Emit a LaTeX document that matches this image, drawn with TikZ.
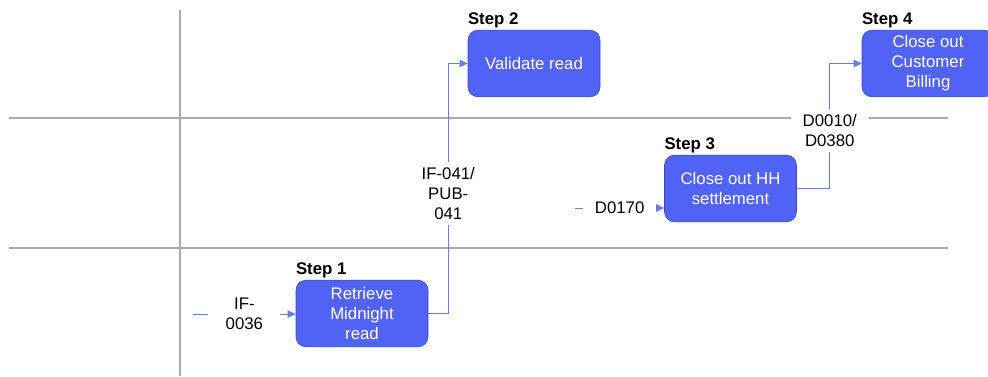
\documentclass[tikz,border=0pt]{standalone}
\usepackage{fontspec}
\setmainfont{Liberation Sans}
\usepackage{xcolor}
\usetikzlibrary{arrows.meta, backgrounds}

\definecolor{boxblue}{HTML}{5163F5}
\definecolor{boxedge}{HTML}{3947C4}
\definecolor{flowblue}{HTML}{6A7BF0}
\definecolor{lanegray}{HTML}{AAAAAA}

\begin{document}
\begin{tikzpicture}[x=0.75pt, y=-0.75pt, font=\fontsize{12.6}{15}\selectfont]
            \tikzstyle{Step Box} = [draw=boxedge, fill=boxblue, text=white, rounded corners=7.5pt, minimum width=99pt, minimum height=50pt, align=center, inner sep=2pt,
                label={[anchor=south west, inner xsep=0pt, inner ysep=1pt, font=\fontsize{12.6}{15}\selectfont\bfseries]north west:{#1}}]
            \tikzstyle{Flow} = [flowblue, semithick, -{Triangle[length=6pt, width=5.5pt]}]
            \tikzstyle{Data Label} = [fill=white, text=black, align=center, inner xsep=9pt, inner ysep=4pt]
            \tikzstyle{Lane} = [lanegray, line width=0.8pt]
            \useasboundingbox (0,0) rectangle (988,376);
            % steps
            \node[Step Box={Step 1}] (retrieve) at (362,313.5) {Retrieve\\Midnight\\read};
            \node[Step Box={Step 2}] (validate) at (534,63.5) {Validate read};
            \node[Step Box={Step 3}] (settle) at (730.5,188.5) {Close out HH\\settlement};
            \node[Step Box={Step 4}] (billing) at (928,63.5) {Close out\\Customer\\Billing};
            \coordinate (if36) at (193,314);
            \coordinate (d170) at (575,208);
            \begin{scope}[on background layer]
                % swimlanes
                \draw[Lane] (180,10) -- (180,376);
                \draw[Lane] (9,118) -- (948,118);
                \draw[Lane] (9,248) -- (948,248);
                % flows
                \draw[Flow] (if36) -- node[Data Label, inner xsep=13pt] {IF-\\0036} (if36 -| retrieve.west);
                \draw[Flow] (retrieve.east) -- ++(20,0) |- node[Data Label, pos=0.24] {IF-041/\\PUB-\\041} (validate.west);
                \draw[Flow] (d170) -- node[Data Label] {D0170} (d170 -| settle.west);
                \draw[Flow] (settle.east) -- ++(33,0) |- node[Data Label, pos=0.234] {D0010/\\D0380} (billing.west);
            \end{scope}
        \end{tikzpicture}
\end{document}
